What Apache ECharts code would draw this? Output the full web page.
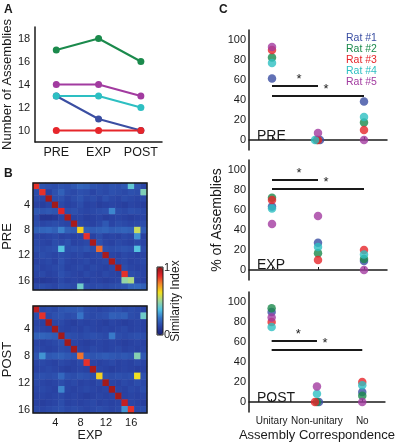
<!DOCTYPE html>
<html>
<head>
<meta charset="utf-8">
<script src="https://cdn.jsdelivr.net/npm/echarts@6/dist/echarts.min.js"></script>
<style>
html, body { margin: 0; padding: 0; background: #fff; }
#main { width: 397px; height: 444px; }
</style>
</head>
<body>
<div id="main"></div>
<script>
// ---- data ----
// A: number of assemblies per session and rat
const sessions = ['PRE', 'EXP', 'POST'];
const rats = ['Rat #1', 'Rat #2', 'Rat #3', 'Rat #4', 'Rat #5'];
const assembliesRat1 = [13, 11, 10];
const assembliesRat2 = [17, 18, 16];
const assembliesRat3 = [10, 10, 10];
const assembliesRat4 = [13, 13, 12];
const assembliesRat5 = [14, 14, 13];

// B: similarity index, rows = PRE / POST assemblies, cols = EXP assemblies
const heatTicks = [4, 8, 12, 16];
const simPRE = [
  [.86,.17,.16,.15,.17,.16,.18,.21,.20,.17,.16,.15,.17,.16,.18,.40,.17,.13],
  [.15,.86,.12,.16,.20,.15,.14,.16,.15,.13,.15,.14,.16,.15,.14,.16,.15,.45],
  [.14,.13,.97,.15,.16,.13,.15,.17,.14,.15,.13,.16,.14,.13,.15,.14,.13,.14],
  [.12,.11,.13,.97,.14,.12,.13,.15,.12,.13,.11,.12,.13,.12,.11,.13,.12,.11],
  [.18,.17,.18,.17,.88,.15,.16,.14,.13,.14,.15,.16,.28,.15,.14,.16,.15,.14],
  [.14,.08,.08,.09,.13,.96,.12,.13,.11,.12,.13,.11,.12,.13,.12,.11,.12,.13],
  [.15,.13,.14,.15,.14,.13,.96,.14,.13,.12,.14,.18,.13,.15,.14,.13,.14,.15],
  [.20,.21,.22,.20,.27,.20,.19,.65,.20,.19,.20,.21,.19,.20,.21,.20,.56,.19],
  [.13,.12,.13,.14,.12,.13,.12,.13,.86,.12,.15,.12,.13,.12,.14,.13,.30,.12],
  [.14,.13,.12,.15,.14,.16,.12,.13,.14,.96,.16,.13,.12,.14,.13,.12,.14,.13],
  [.15,.14,.15,.16,.38,.15,.16,.15,.17,.15,.79,.16,.15,.16,.17,.16,.38,.15],
  [.13,.15,.14,.13,.15,.14,.13,.14,.12,.13,.14,.96,.13,.12,.14,.13,.12,.13],
  [.12,.13,.14,.12,.16,.13,.12,.13,.14,.12,.13,.14,.96,.13,.14,.12,.13,.14],
  [.14,.12,.13,.14,.15,.12,.13,.14,.12,.14,.13,.12,.14,.97,.15,.13,.12,.13],
  [.13,.14,.12,.13,.16,.14,.13,.12,.14,.13,.12,.14,.13,.12,.86,.15,.14,.13],
  [.10,.09,.10,.11,.14,.12,.13,.12,.11,.13,.12,.11,.12,.13,.48,.52,.13,.12],
  [.14,.15,.14,.13,.16,.15,.14,.42,.15,.14,.15,.14,.15,.16,.17,.21,.22,.20]
];
const simPOST = [
  [.93,.14,.15,.14,.17,.18,.18,.19,.15,.14,.13,.14,.15,.16,.14,.15,.14,.13],
  [.15,.86,.14,.16,.17,.15,.16,.25,.15,.14,.15,.16,.20,.19,.20,.15,.14,.42],
  [.13,.12,.97,.13,.14,.12,.11,.13,.12,.13,.12,.11,.13,.12,.11,.12,.13,.12],
  [.14,.13,.12,.97,.13,.12,.13,.12,.14,.13,.12,.13,.12,.13,.14,.12,.13,.12],
  [.20,.21,.20,.19,.97,.16,.15,.14,.15,.16,.15,.14,.26,.15,.14,.15,.16,.15],
  [.13,.12,.13,.14,.16,.97,.13,.12,.11,.12,.13,.12,.13,.12,.11,.12,.13,.12],
  [.14,.13,.12,.13,.15,.14,.97,.13,.12,.14,.13,.12,.13,.14,.12,.13,.12,.13],
  [.17,.30,.18,.19,.20,.18,.17,.78,.18,.17,.18,.19,.18,.17,.18,.17,.46,.18],
  [.13,.14,.13,.12,.14,.13,.12,.14,.86,.13,.12,.13,.14,.12,.13,.12,.14,.13],
  [.12,.13,.14,.13,.12,.11,.12,.13,.12,.96,.13,.12,.11,.12,.13,.12,.11,.12],
  [.15,.16,.15,.16,.22,.16,.15,.17,.16,.15,.65,.16,.15,.16,.15,.16,.62,.16],
  [.14,.13,.12,.13,.15,.13,.14,.12,.13,.12,.14,.97,.13,.12,.14,.13,.15,.14],
  [.13,.14,.13,.12,.28,.13,.12,.13,.14,.13,.12,.13,.97,.13,.12,.14,.13,.15],
  [.12,.13,.12,.13,.14,.12,.13,.12,.11,.12,.13,.12,.13,.97,.12,.13,.12,.13],
  [.12,.11,.12,.13,.15,.12,.13,.12,.13,.14,.12,.13,.12,.13,.92,.13,.12,.11],
  [.14,.13,.14,.15,.16,.14,.15,.14,.13,.14,.15,.14,.13,.14,.30,.86,.14,.15]
];

// C: % of assemblies per correspondence type, one row per rat
const corrCats = ['Unitary', 'Non-unitary', 'No'];
const pctPRE  = [[61.5, 0, 38.5], [82.4, 0, 17.6], [90, 0, 10], [76.9, 0, 23.1], [92.9, 7.1, 0]];
const pctEXP  = [[63.6, 27.3, 9.1], [72.2, 16.7, 11.1], [70, 10, 20], [61.5, 23.1, 15.4], [46, 54, 0]];
const pctPOST = [[90, 0, 10], [93.8, 0, 6.2], [80, 0, 20], [75, 8.3, 16.7], [84.6, 15.4, 0]];
// significance bars (Unitary vs Non-unitary, Unitary vs No)
const sigPRE = [54, 44];
const sigEXP = [90, 81];
const sigPOST = [61, 52];

// ---- style ----
const FONT = '"Liberation Sans", Arial, sans-serif';
const INK = '#1a1a1a';
const ratColors = ['#3a4ea2', '#1b8a4c', '#e6262b', '#2dbfc2', '#a23ba0'];
const jet = ['#1c2275', '#2a43a4', '#3673c6', '#52c3e3', '#9fd79a', '#f3e11d', '#f38a2b', '#e3252a', '#8e1616'];
// small sideways offsets for overlapping zero points in the Non-unitary column
const jitter = [[2, -1, 0, -3, 0], [0, 0, 0, 0, 0], [2, 0, -2, 0, 0]];

const gridA = {left: 33, top: 27, width: 129, height: 115};
const gridPRE = {left: 33, top: 183, width: 114, height: 107};
const gridPOST = {left: 33, top: 306, width: 114, height: 107};
const gridsC = [30, 160, 292].map(t => ({left: 249, top: t, width: 138, height: 120}));

const chart = echarts.init(document.getElementById('main'));

const axisLine = {show: true, lineStyle: {color: INK, width: 1.5}};
const heatIdx = n => Array.from({length: n}, (_, i) => String(i + 1));
const showTick = (i, v) => heatTicks.includes(Number(v));

function heatData(m) {
  const out = [];
  m.forEach((row, r) => row.forEach((v, c) => out.push([c, r, v])));
  return out;
}

const assemblies = [assembliesRat1, assembliesRat2, assembliesRat3, assembliesRat4, assembliesRat5];
const series = [];

// A lines
assemblies.forEach((d, i) => {
  series.push({
    name: rats[i], type: 'line', xAxisIndex: 0, yAxisIndex: 0, data: d,
    symbol: 'circle', symbolSize: 7, color: ratColors[i],
    lineStyle: {width: 2}, emphasis: {disabled: true}
  });
});

// B heatmaps
series.push({type: 'heatmap', xAxisIndex: 1, yAxisIndex: 1, data: heatData(simPRE), emphasis: {disabled: true}});
series.push({type: 'heatmap', xAxisIndex: 2, yAxisIndex: 2, data: heatData(simPOST), emphasis: {disabled: true}});

// C scatters
const pcts = [pctPRE, pctEXP, pctPOST];
const sigs = [sigPRE, sigEXP, sigPOST];
pcts.forEach((pct, p) => {
  pct.forEach((row, i) => {
    const s = {
      name: rats[i], type: 'scatter', xAxisIndex: 3 + p, yAxisIndex: 3 + p,
      symbolSize: 8.5, color: ratColors[i], emphasis: {disabled: true},
      data: row.map((v, j) => ({value: [j, v], symbolOffset: [j === 1 ? jitter[p][i] : 0, 0]}))
    };
    if (i === 0) {
      const sg = sigs[p];
      s.markLine = {
        silent: true, symbol: 'none',
        lineStyle: {color: INK, width: 2, type: 'solid'},
        label: {show: true, formatter: '*', position: 'middle', fontSize: 13, color: INK, fontFamily: FONT, distance: 0},
        emphasis: {disabled: true},
        data: [
          [{coord: [0, sg[0]], label: {offset: [4, 0]}}, {coord: [1, sg[0]]}],
          [{coord: [0, sg[1]], label: {offset: [8, 0]}}, {coord: [2, sg[1]]}]
        ]
      };
    }
    series.push(s);
  });
});

const xAxes = [
  {gridIndex: 0, type: 'category', data: sessions, axisLine,
   axisTick: {show: false},
   axisLabel: {interval: 0, hideOverlap: false, fontSize: 12.5, color: INK, fontFamily: FONT, margin: 4}},
  {gridIndex: 1, type: 'category', data: heatIdx(18), axisLine: {show: false}, axisTick: {show: false}, axisLabel: {show: false}},
  {gridIndex: 2, type: 'category', data: heatIdx(18), axisLine: {show: false}, axisTick: {show: false},
   axisLabel: {interval: showTick, fontSize: 11, color: INK, fontFamily: FONT, margin: 4},
   name: 'EXP', nameLocation: 'middle', nameGap: 15,
   nameTextStyle: {fontSize: 12.5, color: INK, fontFamily: FONT}}
];
const yAxes = [
  {gridIndex: 0, type: 'value', min: 9, max: 19, interval: 1, axisLine,
   axisTick: {show: false}, splitLine: {show: false},
   axisLabel: {formatter: v => (v % 2 === 0 ? v : ''), fontSize: 11, color: INK, fontFamily: FONT, margin: 5},
   name: 'Number of Assemblies', nameLocation: 'middle', nameGap: 15,
   nameTextStyle: {fontSize: 13, color: INK, fontFamily: FONT}},
  {gridIndex: 1, type: 'category', data: heatIdx(17), inverse: true, axisLine: {show: false}, axisTick: {show: false},
   axisLabel: {interval: showTick, fontSize: 11, color: INK, fontFamily: FONT, margin: 3},
   name: 'PRE', nameLocation: 'middle', nameGap: 16,
   nameTextStyle: {fontSize: 13, color: INK, fontFamily: FONT}},
  {gridIndex: 2, type: 'category', data: heatIdx(16), inverse: true, axisLine: {show: false}, axisTick: {show: false},
   axisLabel: {interval: showTick, fontSize: 11, color: INK, fontFamily: FONT, margin: 3},
   name: 'POST', nameLocation: 'middle', nameGap: 16,
   nameTextStyle: {fontSize: 13, color: INK, fontFamily: FONT}}
];
gridsC.forEach((g, p) => {
  const last = p === 2;
  xAxes.push({
    gridIndex: 3 + p, type: 'category', data: corrCats, axisLine,
    axisTick: {show: true, inside: true, length: 3, alignWithLabel: true, lineStyle: {color: INK}},
    axisLabel: {show: last, interval: 0, hideOverlap: false, fontSize: 10, color: INK, fontFamily: FONT, margin: 4},
    name: last ? 'Assembly Correspondence' : '', nameLocation: 'middle', nameGap: 17,
    nameTextStyle: {fontSize: 13, color: INK, fontFamily: FONT}
  });
  yAxes.push({
    gridIndex: 3 + p, type: 'value', min: -10, max: 110, interval: 10, axisLine,
    axisTick: {show: false}, splitLine: {show: false},
    axisLabel: {formatter: v => (v >= 0 && v % 20 === 0 ? v : ''), fontSize: 11, color: INK, fontFamily: FONT, margin: 3},
    name: p === 1 ? '% of Assemblies' : '', nameLocation: 'middle', nameGap: 22,
    nameTextStyle: {fontSize: 14, color: INK, fontFamily: FONT}
  });
});

const frame = g => ({type: 'rect', shape: {x: g.left, y: g.top, width: g.width, height: g.height},
  style: {fill: 'none', stroke: INK, lineWidth: 1.5}, z: 100});
const txt = (x, y, text, size, extra) => Object.assign({type: 'text', x, y, z: 100,
  style: Object.assign({text, font: size + 'px ' + FONT, fill: INK, textAlign: 'left', textVerticalAlign: 'middle'}, extra || {})});

chart.setOption({
  animation: false,
  grid: [gridA, gridPRE, gridPOST].concat(gridsC),
  xAxis: xAxes,
  yAxis: yAxes,
  legend: {
    left: 341, top: 33, orient: 'vertical', padding: 0,
    itemWidth: 0, itemHeight: 8.5, itemGap: 0, selectedMode: false,
    itemStyle: {opacity: 0},
    textStyle: {fontSize: 10.5, lineHeight: 8.5, fontFamily: FONT},
    data: rats.map((n, i) => ({name: n, icon: 'rect', textStyle: {color: ratColors[i]}}))
  },
  visualMap: {
    type: 'continuous', min: 0, max: 1, seriesIndex: [5, 6], calculable: false,
    orient: 'vertical', left: 157, top: 267, itemWidth: 6, itemHeight: 68, padding: 0,
    inRange: {color: jet}
  },
  graphic: [
    txt(4, 10, 'A', 12, {font: 'bold 12px ' + FONT}),
    txt(4, 174, 'B', 12, {font: 'bold 12px ' + FONT}),
    txt(219, 10, 'C', 12, {font: 'bold 12px ' + FONT}),
    txt(257, 136, 'PRE', 14),
    txt(257, 265, 'EXP', 14),
    txt(257, 398, 'POST', 14),
    txt(164, 268, '1', 11),
    txt(164, 335, '0', 11),
    Object.assign(txt(176, 301, 'Similarity Index', 12, {textAlign: 'center'}), {rotation: Math.PI / 2}),
    frame(gridPRE), frame(gridPOST),
    {type: 'rect', shape: {x: 157, y: 267, width: 6, height: 68}, style: {fill: 'none', stroke: INK, lineWidth: 1}, z: 100}
  ],
  series
});
</script>
</body>
</html>
